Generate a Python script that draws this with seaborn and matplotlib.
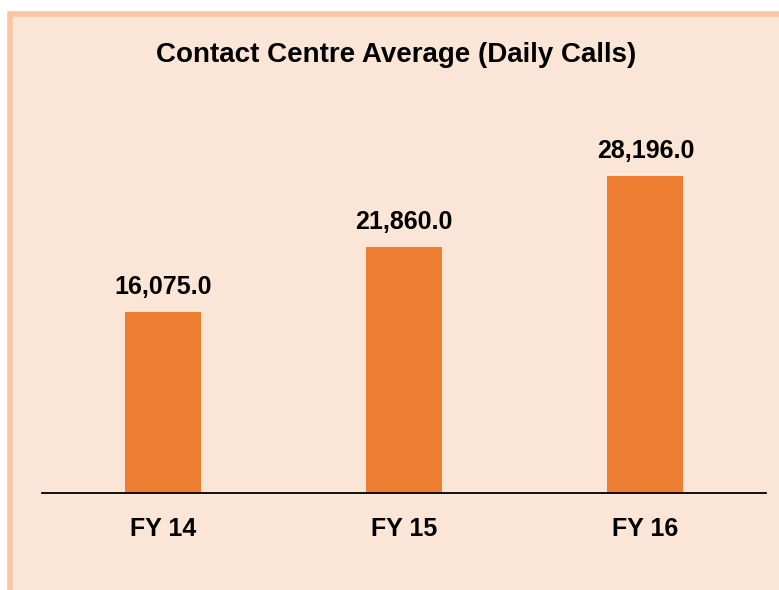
import matplotlib.pyplot as plt
import seaborn as sns
import pandas as pd
from matplotlib.patches import Rectangle

years = ["FY 14", "FY 15", "FY 16"]
daily_calls = [16075.0, 21860.0, 28196.0]

df = pd.DataFrame({"year": years, "calls": daily_calls})

sns.set_theme(style="white")
plt.rcParams["font.family"] = ["Liberation Sans", "DejaVu Sans"]

fig = plt.figure(figsize=(7.79, 5.90), dpi=100)
fig.patch.set_facecolor("white")

# panel background with light orange border
panel = Rectangle((10 / 779, -0.02), 1.0, (590 - 14) / 590 + 0.02,
                  transform=fig.transFigure, facecolor="#FBE5D6",
                  edgecolor="#F8C6A2", linewidth=4, zorder=-10)
fig.add_artist(panel)

ax = fig.add_axes([42 / 779, (590 - 493) / 590, 724 / 779, (493 - 155.8) / 590])
ax.set_facecolor("none")
ax.set_zorder(5)

sns.barplot(data=df, x="year", y="calls", color="#ED7D31", saturation=1,
            width=0.315, linewidth=0, ax=ax)

ax.set_ylim(0, 30000)
ax.set_xlim(-0.5, 2.5)
ax.set_xlabel("")
ax.set_ylabel("")
ax.set_yticks([])
for side in ["top", "right", "left"]:
    ax.spines[side].set_visible(False)
ax.spines["bottom"].set_color("black")
ax.spines["bottom"].set_linewidth(1.3)
ax.tick_params(axis="x", length=0, pad=17)
for lbl in ax.get_xticklabels():
    lbl.set_fontsize(18)
    lbl.set_fontweight("bold")
    lbl.set_color("black")

for i, v in enumerate(daily_calls):
    ax.annotate(f"{v:,.1f}", (i, v), xytext=(0, 13), textcoords="offset points",
                ha="center", va="baseline", fontsize=18, fontweight="bold",
                color="black", annotation_clip=False)

fig.text(396 / 779, 1 - 55 / 590, "Contact Centre Average (Daily Calls)",
         ha="center", va="center", fontsize=20, fontweight="bold", color="black",
         zorder=6)

fig.savefig("out.png", dpi=100)
